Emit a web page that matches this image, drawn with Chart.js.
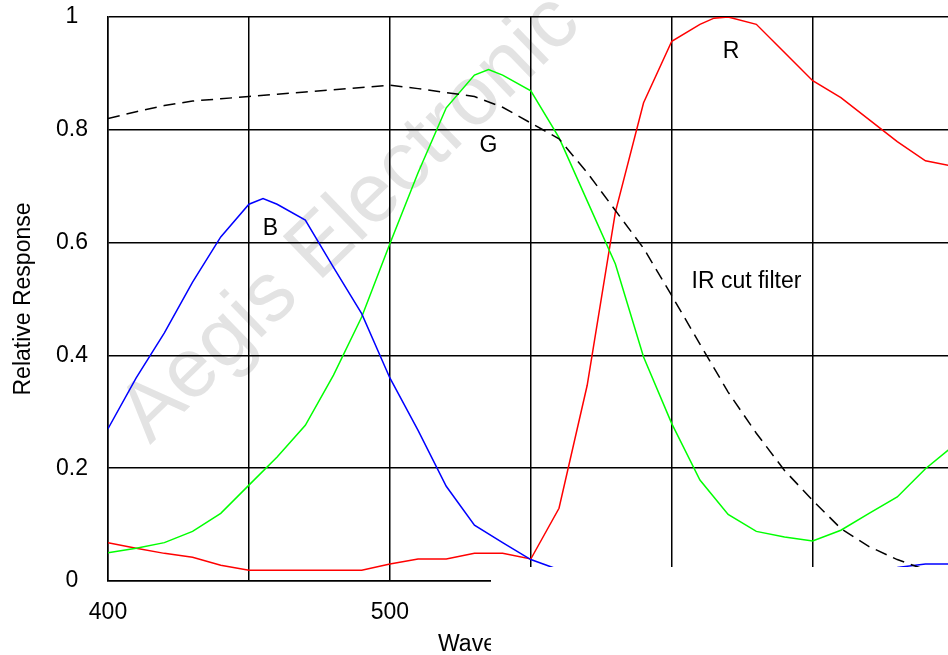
<!DOCTYPE html>
<html>
<head>
<meta charset="utf-8">
<script src="https://cdn.jsdelivr.net/npm/chart.js@4.4.1/dist/chart.umd.min.js"></script>
<style>
  html, body { margin: 0; padding: 0; background: #fff; }
  #wrap { width: 948px; height: 655px; position: relative; }
</style>
</head>
<body>
<div id="wrap"><canvas id="chart"></canvas></div>
<script>
// wavelengths (nm) and relative response
const blueNm  = [400, 410, 420, 430, 440, 450, 455, 460, 470, 480, 490, 500, 510, 520, 530, 540, 550, 560, 570, 580, 590, 600, 610, 620, 630, 640, 650, 660, 670, 680, 685, 690, 700];
const blueVal = [0.27, 0.36, 0.44, 0.53, 0.61, 0.668, 0.678, 0.668, 0.64, 0.556, 0.474, 0.36, 0.267, 0.168, 0.099, 0.068, 0.038, 0.02, 0.015, 0.012, 0.01, 0.01, 0.01, 0.01, 0.012, 0.013, 0.015, 0.017, 0.02, 0.024, 0.027, 0.03, 0.03];

const greenNm  = [400, 410, 420, 430, 440, 450, 460, 470, 480, 490, 500, 510, 520, 530, 535, 540, 550, 560, 570, 580, 590, 600, 610, 620, 630, 640, 650, 660, 670, 680, 690, 700];
const greenVal = [0.05, 0.058, 0.068, 0.088, 0.12, 0.17, 0.22, 0.276, 0.365, 0.468, 0.598, 0.724, 0.839, 0.897, 0.907, 0.897, 0.869, 0.786, 0.674, 0.562, 0.397, 0.279, 0.179, 0.118, 0.088, 0.078, 0.071, 0.09, 0.12, 0.149, 0.199, 0.24];

const redNm  = [400, 410, 420, 430, 440, 450, 460, 470, 480, 490, 500, 510, 520, 530, 540, 550, 560, 570, 580, 590, 600, 610, 615, 620, 630, 640, 650, 660, 670, 680, 690, 700];
const redVal = [0.068, 0.058, 0.049, 0.042, 0.028, 0.019, 0.019, 0.019, 0.019, 0.019, 0.03, 0.039, 0.039, 0.049, 0.049, 0.039, 0.129, 0.347, 0.654, 0.848, 0.957, 0.987, 0.998, 1.0, 0.987, 0.937, 0.887, 0.857, 0.818, 0.779, 0.745, 0.735];

const irNm  = [400, 410, 420, 430, 440, 450, 460, 470, 480, 490, 500, 510, 520, 530, 540, 550, 560, 570, 580, 590, 600, 610, 620, 630, 640, 650, 660, 670, 680, 690, 700];
const irVal = [0.82, 0.832, 0.843, 0.851, 0.855, 0.859, 0.863, 0.867, 0.871, 0.875, 0.879, 0.873, 0.866, 0.859, 0.84, 0.812, 0.784, 0.724, 0.657, 0.59, 0.506, 0.42, 0.335, 0.262, 0.196, 0.143, 0.093, 0.061, 0.038, 0.02, 0.012];

// vertical grid every 50 nm, numbers only every 100 nm
const xGrid  = [400, 450, 500, 550, 600, 650];
const xTicks = [400, 500, 600];
const yTicks = [0, 0.2, 0.4, 0.6, 0.8, 1];

const FONT = '"Liberation Sans", Arial, sans-serif';

function toPoints(xs, ys) {
    return xs.map((x, i) => ({ x: x, y: ys[i] }));
}

function line(label, xs, ys, color, dash) {
    return {
        label: label,
        data: toPoints(xs, ys),
        borderColor: color,
        borderWidth: 1.5,
        borderDash: dash || [],
        pointRadius: 0,
        tension: 0,
        fill: false
    };
}

// curve labels placed in data coordinates
const notes = [
    { text: 'B', x: 457.6, y: 0.625, align: 'center' },
    { text: 'G', x: 535, y: 0.772, align: 'center' },
    { text: 'R', x: 621, y: 0.938, align: 'center' },
    { text: 'IR cut filter', x: 607, y: 0.531, align: 'left' }
];

const extras = {
    id: 'extras',
    beforeDraw(chart) {
        // watermark behind everything
        const ctx = chart.ctx;
        ctx.save();
        ctx.translate(150, 445);
        ctx.rotate(-44 * Math.PI / 180);
        ctx.font = '84px ' + FONT;
        ctx.fillStyle = '#e3e3e3';
        ctx.textAlign = 'left';
        ctx.textBaseline = 'alphabetic';
        ctx.fillText('Aegis Electronic', 0, 0);
        ctx.restore();
    },
    afterDatasetsDraw(chart) {
        const ctx = chart.ctx;
        const xs = chart.scales.x, ys = chart.scales.y;
        ctx.save();
        ctx.font = '23px ' + FONT;
        ctx.fillStyle = '#000';
        ctx.textBaseline = 'middle';
        notes.forEach(n => {
            ctx.textAlign = n.align;
            ctx.fillText(n.text, xs.getPixelForValue(n.x), ys.getPixelForValue(n.y));
        });
        ctx.restore();
    },
    afterDraw(chart) {
        const ctx = chart.ctx;
        ctx.save();
        ctx.font = '23px ' + FONT;
        ctx.fillStyle = '#000';
        ctx.textAlign = 'left';
        ctx.textBaseline = 'alphabetic';
        ctx.fillText('Wavelength (nm)', 438, 651);
        // the blank patch that hides the lower right corner of the figure
        ctx.fillStyle = '#fff';
        ctx.fillRect(491, 567, chart.width - 491, chart.height - 567);
        ctx.restore();
    }
};

const ctx = document.getElementById('chart').getContext('2d');

new Chart(ctx, {
    type: 'line',
    data: {
        datasets: [
            line('IR cut filter', irNm, irVal, '#000000', [12, 7]),
            line('B', blueNm, blueVal, '#0000ff'),
            line('G', greenNm, greenVal, '#00ff00'),
            line('R', redNm, redVal, '#ff0000')
        ]
    },
    options: {
        responsive: true,
        maintainAspectRatio: false,
        animation: false,
        layout: { padding: { top: 17, right: 0, left: 0, bottom: 0 } },
        plugins: {
            legend: { display: false },
            tooltip: { enabled: false }
        },
        scales: {
            x: {
                type: 'linear',
                min: 400,
                max: 698,
                bounds: 'data',
                afterBuildTicks: s => { s.ticks = xGrid.map(v => ({ value: v })); },
                afterFit: s => {
                    s.height = 74;
                    s.paddingLeft = 0;
                    s.paddingRight = 0;
                },
                grid: { color: '#000', lineWidth: 1.5, drawTicks: false },
                border: { color: '#000', width: 1.5 },
                ticks: {
                    autoSkip: false,
                    maxRotation: 0,
                    padding: 18,
                    color: '#000',
                    font: { family: FONT, size: 23 },
                    callback: v => xTicks.includes(v) ? String(v) : ''
                }
            },
            y: {
                min: 0,
                max: 1,
                afterBuildTicks: s => { s.ticks = yTicks.map(v => ({ value: v })); },
                afterFit: s => {
                    s.width = 108;
                    s.paddingTop = 0;
                    s.paddingBottom = 0;
                },
                grid: { color: '#000', lineWidth: 1.5, drawTicks: false },
                border: { color: '#000', width: 1.5 },
                ticks: {
                    crossAlign: 'center',
                    padding: 20,
                    color: '#000',
                    font: { family: FONT, size: 23 },
                    callback: v => String(v)
                },
                title: {
                    display: true,
                    text: 'Relative Response',
                    color: '#000',
                    font: { family: FONT, size: 23 },
                    padding: { top: 10, bottom: 0 }
                }
            }
        }
    },
    plugins: [extras]
});
</script>
</body>
</html>
